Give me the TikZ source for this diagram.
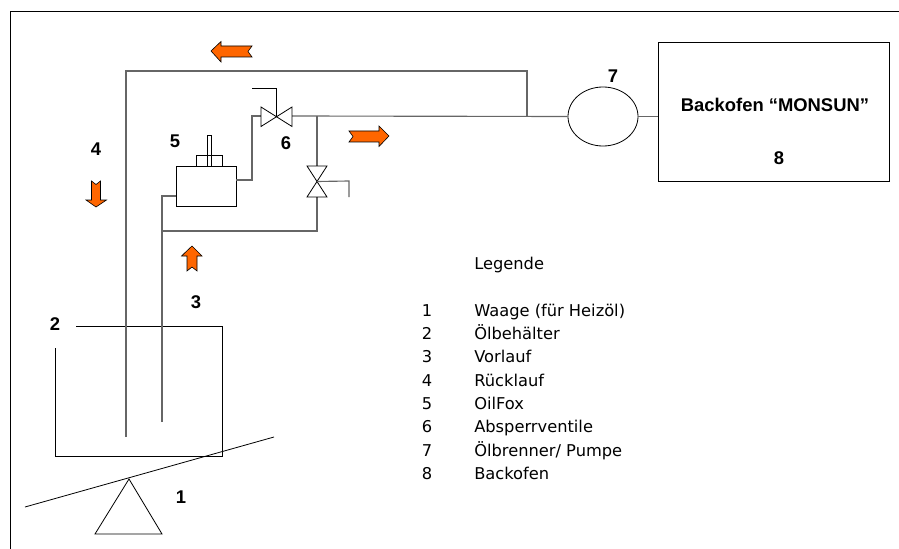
\documentclass[tikz,border=0pt]{standalone}
\usepackage{fontspec}
\usetikzlibrary{shapes.geometric}
\setmainfont{DejaVu Sans}
\newfontfamily\numfont{Liberation Sans}
\definecolor{flowcolor}{HTML}{FF6600}
\tikzset{
  pipe/.style={draw=black!60, line width=0.85pt},
  thin line/.style={draw=black, line width=0.6pt},
  flow/.style={fill=flowcolor, draw=black, line width=0.45pt},
  num/.style={font=\fontsize{13.8}{16}\numfont\bfseries, inner sep=0pt},
  legend/.style={font=\fontsize{12.2}{14}\selectfont, inner sep=0pt},
}
\begin{document}
\begin{tikzpicture}[x=0.75pt, y=-0.75pt]
  \useasboundingbox (0,0) rectangle (899,549);

  \coordinate (frameBL) at (10,549);
  \coordinate (frameTL) at (10,11);
  \coordinate (frameTR) at (899,11);
  \draw[thin line] (frameBL) -- (frameTL) -- (frameTR);

  % tank and scale
  \coordinate (tankA) at (76,326);
  \coordinate (tankB) at (222,326);
  \coordinate (tankC) at (222,456);
  \coordinate (tankD) at (55,456);
  \coordinate (tankE) at (55,348);
  \draw[thin line] (tankA) -- (tankB) -- (tankC) -- (tankD) -- (tankE);
  \coordinate (beamL) at (25,507);
  \coordinate (beamR) at (274,437);
  \draw[thin line] (beamL) -- (beamR);
  \coordinate (triA) at (129,479);
  \coordinate (triB) at (162,534);
  \coordinate (triC) at (95,534);
  \draw[thin line] (triA) -- (triB) -- (triC) -- cycle;

  % main parts
  \node [draw, thin line, minimum width=45pt, minimum height=30pt, inner sep=0pt] (oilfox) at (206,186) {};
  \node [draw, thin line, minimum width=19.5pt, minimum height=8.25pt, inner sep=0pt] (oilfoxcap) at (209,160.5) {};
  \node [draw, thin line, minimum width=3pt, minimum height=23.25pt, inner sep=0pt] (sensor) at (209,150.5) {};
  \node [draw, thin line, ellipse, minimum width=52.5pt, minimum height=44.25pt, inner sep=0pt] (burner) at (603,116.5) {};
  \node [draw, thin line, minimum width=173.25pt, minimum height=104.25pt, inner sep=0pt] (oven) at (773.5,111.5) {};

  % return line
  \coordinate (retA) at (126,437);
  \coordinate (retB) at (126,71);
  \coordinate (retC) at (527,71);
  \coordinate (retD) at (527,116);
  \draw[pipe] (retA) -- (retB) -- (retC) -- (retD);

  % supply line
  \coordinate (supA) at (162,422);
  \coordinate (supB) at (162,196);
  \coordinate (supC) at (162,231);
  \coordinate (supD) at (317,231);
  \coordinate (valveVb) at (317,197);
  \coordinate (valveVt) at (317,166);
  \coordinate (valveVc) at (317,181.5);
  \coordinate (valveHl) at (261,116);
  \coordinate (valveHr) at (292,116);
  \coordinate (valveHc) at (276.5,116);
  \coordinate (tee) at (317,116);
  \draw[pipe] (supA) -- (supB) -- (oilfox.west |- supB);
  \draw[pipe] (supC) -- (supD) -- (valveVb);
  \draw[pipe] (valveVt) -- (tee);
  \draw[pipe] (valveHr) -- (burner.west);
  \draw[pipe] (burner.east) -- (oven.west |- burner.east);
  \coordinate (outA) at (252,180);
  \coordinate (outB) at (252,116);
  \draw[pipe] (oilfox.east |- outA) -- (outA) -- (outB) -- (valveHl);

  % valves
  \draw[thin line] (261,107) -- (292,126.5) -- (292,107) -- (261,126.5) -- cycle;
  \draw[thin line] (307,166) -- (327,197) -- (307,197) -- (327,166) -- cycle;
  \coordinate (stemHa) at (276.5,88);
  \coordinate (stemHb) at (252,88);
  \draw[thin line] (valveHc) -- (stemHa) -- (stemHb);
  \coordinate (stemVa) at (349,181);
  \coordinate (stemVb) at (349,197);
  \draw[pipe] (valveVc) -- (stemVa) -- (stemVb);

  % flow arrows
  \filldraw[flow] (211,51) -- (221,41.5) -- (221,46) -- (252,46) -- (248,51.5) -- (252,57) -- (221,57) -- (221,62) -- cycle;
  \filldraw[flow] (389,136) -- (379,126) -- (379,131) -- (349,131) -- (353,136.5) -- (349,142) -- (379,142) -- (379,146.5) -- cycle;
  \filldraw[flow] (192,246) -- (202,256) -- (197,256) -- (197,271) -- (192,267) -- (187,271) -- (187,256) -- (181.5,256) -- cycle;
  \filldraw[flow] (96,207) -- (106.5,200) -- (100.5,200) -- (100.5,181) -- (96,184.5) -- (91.5,181) -- (91.5,200) -- (86,200) -- cycle;

  % labels
  \node [num] (n1) at (181,497) {1};
  \node [num] (n2) at (55,324) {2};
  \node [num] (n3) at (196,302) {3};
  \node [num] (n4) at (96,149) {4};
  \node [num] (n5) at (175,141) {5};
  \node [num] (n6) at (286,143) {6};
  \node [num] (n7) at (613,76) {7};
  \node [num] (n8) at (779,158) {8};
  \node [num] (ovenlabel) at (775,105) {Backofen “MONSUN”};

  % legend
  \node [legend, anchor=base west] (legendtitle) at (474,269) {Legende};
  \foreach \nr/\txt/\ypos in {1/Waage (für Heizöl)/316, 2/Ölbehälter/339, 3/Vorlauf/362.5, 4/Rücklauf/386, 5/OilFox/409, 6/Absperrventile/432.5, 7/Ölbrenner\slash\ Pumpe/456, 8/Backofen/479}{
    \node [legend, anchor=base] (nr\nr) at (427,\ypos) {\nr};
    \node [legend, anchor=base west] (txt\nr) at (474,\ypos) {\txt};
  }
\end{tikzpicture}
\end{document}
